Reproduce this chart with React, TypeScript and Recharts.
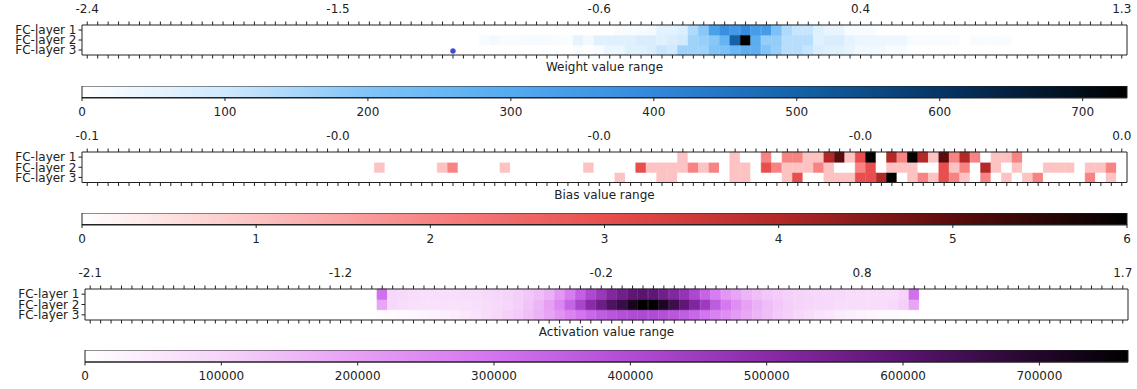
import { BarChart, ComposedChart, Bar, Line, Cell, XAxis, YAxis } from "recharts";

// ---- data ----
const layers = ["FC-layer 1", "FC-layer 2", "FC-layer 3"];
const tickBins = [0, 24, 49, 74, 99];

const weightTickLabels = ["-2.4", "-1.5", "-0.6", "0.4", "1.3"];
const biasTickLabels = ["-0.1", "-0.0", "-0.0", "-0.0", "0.0"];
const actTickLabels = ["-2.1", "-1.2", "-0.2", "0.8", "1.7"];

// weight histogram counts per bin (100 bins)
const weightL1 = [
  0, 0, 0, 0, 0, 0, 0, 0, 0, 0,
  0, 0, 0, 0, 0, 0, 0, 0, 0, 0,
  0, 0, 0, 0, 0, 0, 0, 0, 0, 0,
  0, 0, 0, 0, 0, 0, 0, 0, 0, 0,
  0, 0, 0, 0, 0, 0, 0, 0, 0, 0,
  0, 15, 15, 20, 25, 60, 60, 75, 140, 190,
  330, 380, 350, 390, 340, 340, 210, 140, 110, 110,
  70, 45, 45, 15, 15, 15, 0, 0, 0, 0,
  0, 0, 0, 0, 0, 0, 0, 0, 0, 0,
  0, 0, 0, 0, 0, 0, 0, 0, 0, 0,
];
const weightL2 = [
  0, 0, 0, 0, 0, 0, 0, 0, 0, 0,
  0, 0, 0, 0, 0, 0, 0, 0, 0, 0,
  0, 0, 0, 0, 0, 0, 0, 0, 0, 0,
  0, 0, 0, 0, 0, 0, 0, 0, 15, 25,
  15, 15, 20, 20, 20, 15, 10, 50, 25, 65,
  65, 65, 65, 80, 80, 65, 80, 95, 160, 170,
  190, 260, 500, 731, 290, 175, 175, 130, 130, 130,
  65, 80, 80, 55, 40, 40, 40, 35, 35, 15,
  15, 15, 15, 15, 0, 12, 12, 12, 12, 0,
  0, 0, 0, 0, 0, 0, 0, 0, 0, 0,
];
const weightL3 = [
  0, 0, 0, 0, 0, 0, 0, 0, 0, 0,
  0, 0, 0, 0, 0, 0, 0, 0, 0, 0,
  0, 0, 0, 0, 0, 0, 0, 0, 0, 0,
  0, 0, 0, 0, 0, 0, 0, 0, 0, 0,
  0, 0, 0, 0, 0, 0, 0, 10, 0, 15,
  40, 40, 65, 65, 80, 110, 95, 160, 160, 160,
  200, 210, 250, 280, 280, 200, 170, 130, 130, 110,
  80, 65, 65, 50, 30, 30, 30, 15, 15, 0,
  0, 0, 0, 0, 0, 0, 0, 0, 0, 0,
  0, 0, 0, 0, 0, 0, 0, 0, 0, 0,
];
const weightMarker = { bin: 35, level: 0.4 };

const biasL1 = [
  0, 0, 0, 0, 0, 0, 0, 0, 0, 0,
  0, 0, 0, 0, 0, 0, 0, 0, 0, 0,
  0, 0, 0, 0, 0, 0, 0, 0, 0, 0,
  0, 0, 0, 0, 0, 0, 0, 0, 0, 0,
  0, 0, 0, 0, 0, 0, 0, 0, 0, 0,
  0, 0, 0, 0, 0, 0, 0, 1, 0, 0,
  0, 0, 1, 0, 0, 2, 0, 2, 2, 1,
  1, 4, 5, 1, 3, 6, 0, 4, 2, 6,
  4, 1, 5, 2, 4, 2, 0, 1, 1, 2,
  0, 0, 0, 0, 0, 0, 0, 0, 0, 0,
];
const biasL2 = [
  0, 0, 0, 0, 0, 0, 0, 0, 0, 0,
  0, 0, 0, 0, 0, 0, 0, 0, 0, 0,
  0, 0, 0, 0, 0, 0, 0, 0, 1, 0,
  0, 0, 0, 0, 1, 2, 0, 0, 0, 0,
  1, 0, 0, 0, 0, 0, 0, 0, 1, 0,
  0, 0, 0, 3, 1, 1, 1, 1, 2, 1,
  2, 0, 1, 1, 0, 3, 2, 1, 1, 1,
  2, 1, 0, 0, 2, 3, 0, 1, 1, 1,
  0, 0, 3, 1, 2, 0, 4, 1, 0, 1,
  0, 0, 1, 1, 1, 0, 1, 1, 2, 0,
];
const biasL3 = [
  0, 0, 0, 0, 0, 0, 0, 0, 0, 0,
  0, 0, 0, 0, 0, 0, 0, 0, 0, 0,
  0, 0, 0, 0, 0, 0, 0, 0, 0, 0,
  0, 0, 0, 0, 0, 0, 0, 0, 0, 0,
  0, 0, 0, 0, 0, 0, 0, 0, 0, 0,
  0, 1, 0, 0, 0, 1, 1, 0, 0, 0,
  0, 0, 1, 1, 0, 0, 0, 1, 3, 0,
  0, 1, 1, 1, 3, 3, 4, 6, 0, 1,
  2, 1, 3, 2, 1, 0, 2, 0, 1, 0,
  1, 2, 0, 0, 0, 0, 2, 0, 1, 0,
];

const actL1 = [
  0, 0, 0, 0, 0, 0, 0, 0, 0, 0,
  0, 0, 0, 0, 0, 0, 0, 0, 0, 0,
  0, 0, 0, 0, 0, 0, 0, 0, 310000, 90000,
  85000, 80000, 75000, 75000, 75000, 75000, 80000, 80000, 85000, 95000,
  100000, 110000, 125000, 145000, 170000, 220000, 280000, 350000, 410000, 460000,
  515000, 550000, 590000, 600000, 590000, 550000, 515000, 470000, 410000, 340000,
  280000, 220000, 190000, 160000, 140000, 125000, 115000, 105000, 100000, 95000,
  90000, 88000, 85000, 82000, 80000, 80000, 78000, 80000, 100000, 310000,
  0, 0, 0, 0, 0, 0, 0, 0, 0, 0,
  0, 0, 0, 0, 0, 0, 0, 0, 0, 0,
];
const actL2 = [
  0, 0, 0, 0, 0, 0, 0, 0, 0, 0,
  0, 0, 0, 0, 0, 0, 0, 0, 0, 0,
  0, 0, 0, 0, 0, 0, 0, 0, 190000, 90000,
  80000, 75000, 72000, 70000, 70000, 70000, 72000, 75000, 80000, 85000,
  95000, 110000, 130000, 160000, 200000, 260000, 340000, 420000, 500000, 560000,
  620000, 660000, 720000, 765000, 760000, 710000, 650000, 590000, 520000, 450000,
  360000, 290000, 240000, 200000, 170000, 145000, 125000, 110000, 100000, 95000,
  90000, 85000, 82000, 80000, 80000, 80000, 82000, 85000, 110000, 190000,
  0, 0, 0, 0, 0, 0, 0, 0, 0, 0,
  0, 0, 0, 0, 0, 0, 0, 0, 0, 0,
];
const actL3 = [
  0, 0, 0, 0, 0, 0, 0, 0, 0, 0,
  0, 0, 0, 0, 0, 0, 0, 0, 0, 0,
  0, 0, 0, 0, 0, 0, 0, 0, 10000, 12000,
  15000, 20000, 25000, 30000, 38000, 45000, 55000, 65000, 78000, 90000,
  105000, 120000, 140000, 165000, 195000, 230000, 265000, 300000, 330000, 355000,
  375000, 390000, 400000, 405000, 400000, 390000, 375000, 355000, 330000, 300000,
  270000, 240000, 210000, 185000, 160000, 140000, 120000, 105000, 90000, 78000,
  65000, 55000, 45000, 38000, 30000, 24000, 18000, 14000, 10000, 8000,
  0, 0, 0, 0, 0, 0, 0, 0, 0, 0,
  0, 0, 0, 0, 0, 0, 0, 0, 0, 0,
];

const weightBarTicks = [0, 100, 200, 300, 400, 500, 600, 700];
const biasBarTicks = [0, 1, 2, 3, 4, 5, 6];
const actBarTicks = [0, 100000, 200000, 300000, 400000, 500000, 600000, 700000];

// ---- colour maps (value, colour) ----
type Stop = [number, string];
const blueStops: Stop[] = [
  [0, "#ffffff"], [100, "#cfe9fd"], [200, "#80c4f8"], [300, "#55aaf0"], [400, "#3388dc"],
  [500, "#1462a8"], [600, "#063566"], [700, "#010c18"], [731, "#000000"],
];
const redStops: Stop[] = [
  [0, "#ffffff"], [1, "#fdc2c2"], [2, "#f78383"], [3, "#e84e4e"], [4, "#b42828"],
  [5, "#5c0c0c"], [6, "#000000"],
];
const purpleStops: Stop[] = [
  [0, "#ffffff"], [100000, "#f6d4fa"], [200000, "#e6a0f4"], [300000, "#d474f0"],
  [400000, "#b04cd4"], [500000, "#8a2aa8"], [600000, "#5a1470"], [700000, "#22062a"],
  [765000, "#000000"],
];

const W = 1137;
const TOP_AXIS_H = 30;
const BOTTOM_AXIS_H = 20;
const INK = "#222";
const FONT = { fontSize: 12, fill: INK };

function hex(c: string) {
  return [1, 3, 5].map((k) => parseInt(c.slice(k, k + 2), 16));
}

function colorAt(stops: Stop[], v: number) {
  if (v <= stops[0][0]) return stops[0][1];
  for (let k = 1; k < stops.length; k++) {
    const [v1, c1] = stops[k];
    if (v <= v1) {
      const [v0, c0] = stops[k - 1];
      const t = (v - v0) / (v1 - v0);
      const a = hex(c0);
      const b = hex(c1);
      const m = a.map((x, j) => Math.round(x + (b[j] - x) * t));
      return `rgb(${m[0]},${m[1]},${m[2]})`;
    }
  }
  return stops[stops.length - 1][1];
}

type PanelProps = {
  top: number;
  left: number;
  right: number;
  height: number;
  rows: number[][];
  stops: Stop[];
  labels: string[];
  title: string;
  marker?: { bin: number; level: number };
};

function HeatPanel({ top, left, right, height, rows, stops, labels, title, marker }: PanelProps) {
  const data = rows[0].map((_, i) => ({
    bin: i,
    u1: 1,
    u2: 1,
    u3: 1,
    mark: marker && marker.bin === i ? marker.level : null,
  }));
  const h = height + TOP_AXIS_H + BOTTOM_AXIS_H;
  return (
    <div style={{ position: "absolute", left: 0, top: top - TOP_AXIS_H, width: W, height: h }}>
      <ComposedChart
        width={W}
        height={h}
        data={data}
        margin={{ top: 0, bottom: 0, left: left - 72, right: W - right - 1 }}
        barCategoryGap={0}
        barGap={0}
      >
        <XAxis
          xAxisId="top"
          orientation="top"
          dataKey="bin"
          interval={0}
          height={TOP_AXIS_H}
          tickSize={3.5}
          tickMargin={9}
          axisLine={{ stroke: INK }}
          tickLine={{ stroke: INK }}
          tick={FONT}
          tickFormatter={(v) => {
            const k = tickBins.indexOf(v);
            return k >= 0 ? labels[k] : "";
          }}
        />
        <XAxis
          xAxisId="bottom"
          orientation="bottom"
          dataKey="bin"
          interval={0}
          height={BOTTOM_AXIS_H}
          tickSize={3.5}
          axisLine={{ stroke: INK }}
          tickLine={{ stroke: INK }}
          tickFormatter={() => ""}
          label={{ value: title, position: "insideBottom", offset: 4, ...FONT }}
        />
        <YAxis
          yAxisId="left"
          type="number"
          domain={[0, 3]}
          ticks={[0.5, 1.5, 2.5]}
          interval={0}
          width={72}
          tickSize={3.5}
          tickMargin={2}
          axisLine={{ stroke: INK }}
          tickLine={{ stroke: INK }}
          tick={FONT}
          tickFormatter={(v) => layers[2 - Math.floor(v)]}
        />
        <YAxis
          yAxisId="right"
          orientation="right"
          type="number"
          domain={[0, 3]}
          width={1}
          tick={false}
          tickLine={false}
          axisLine={{ stroke: INK }}
        />
        {["u3", "u2", "u1"].map((key, n) => {
          const row = rows[2 - n];
          return (
            <Bar
              key={key}
              dataKey={key}
              xAxisId="top"
              yAxisId="left"
              stackId="s"
              isAnimationActive={false}
            >
              {row.map((v, i) => {
                const c = colorAt(stops, v);
                return <Cell key={i} fill={c} stroke={c} strokeWidth={0.7} />;
              })}
            </Bar>
          );
        })}
        {marker && (
          <Line
            dataKey="mark"
            xAxisId="top"
            yAxisId="left"
            stroke="none"
            dot={{ r: 2.5, fill: "#3f4bd2", stroke: "#3f4bd2", strokeWidth: 0.5 }}
            isAnimationActive={false}
          />
        )}
      </ComposedChart>
    </div>
  );
}

type BarProps = {
  top: number;
  left: number;
  right: number;
  height: number;
  stops: Stop[];
  ticks: number[];
  id: string;
};

function ColorBar({ top, left, right, height, stops, ticks, id }: BarProps) {
  const vmax = stops[stops.length - 1][0];
  const h = height + 25;
  return (
    <div style={{ position: "absolute", left: 0, top, width: W, height: h }}>
      <BarChart
        layout="vertical"
        width={W}
        height={h}
        data={[{ name: "scale", v: vmax }]}
        margin={{ top: 0, bottom: 0, left, right: W - right }}
        barCategoryGap={0}
      >
        <defs>
          <linearGradient id={id} x1="0" y1="0" x2="1" y2="0">
            {stops.map(([v, c]) => (
              <stop key={v} offset={`${(v / vmax) * 100}%`} stopColor={c} />
            ))}
          </linearGradient>
        </defs>
        <XAxis
          type="number"
          domain={[0, vmax]}
          ticks={ticks}
          interval={0}
          height={25}
          tickSize={3.5}
          tickMargin={6}
          axisLine={{ stroke: INK }}
          tickLine={{ stroke: INK }}
          tick={FONT}
        />
        <YAxis type="category" dataKey="name" hide />
        <Bar dataKey="v" fill={`url(#${id})`} stroke={INK} strokeWidth={1} isAnimationActive={false} />
      </BarChart>
    </div>
  );
}

export default function App() {
  return (
    <div
      style={{
        position: "fixed",
        left: 0,
        top: 0,
        width: W,
        height: 389,
        background: "#fff",
        fontFamily: "'DejaVu Sans', sans-serif",
      }}
    >
      <HeatPanel
        top={25}
        left={82}
        right={1127}
        height={30}
        rows={[weightL1, weightL2, weightL3]}
        stops={blueStops}
        labels={weightTickLabels}
        title="Weight value range"
        marker={weightMarker}
      />
      <ColorBar top={86} left={82} right={1127} height={11.5} stops={blueStops} ticks={weightBarTicks} id="cb-weight" />

      <HeatPanel
        top={152}
        left={82}
        right={1127}
        height={30.5}
        rows={[biasL1, biasL2, biasL3]}
        stops={redStops}
        labels={biasTickLabels}
        title="Bias value range"
      />
      <ColorBar top={212.5} left={82} right={1127} height={11.5} stops={redStops} ticks={biasBarTicks} id="cb-bias" />

      <HeatPanel
        top={289}
        left={85}
        right={1128}
        height={31}
        rows={[actL1, actL2, actL3]}
        stops={purpleStops}
        labels={actTickLabels}
        title="Activation value range"
      />
      <ColorBar top={350} left={85} right={1128} height={12} stops={purpleStops} ticks={actBarTicks} id="cb-act" />
    </div>
  );
}
